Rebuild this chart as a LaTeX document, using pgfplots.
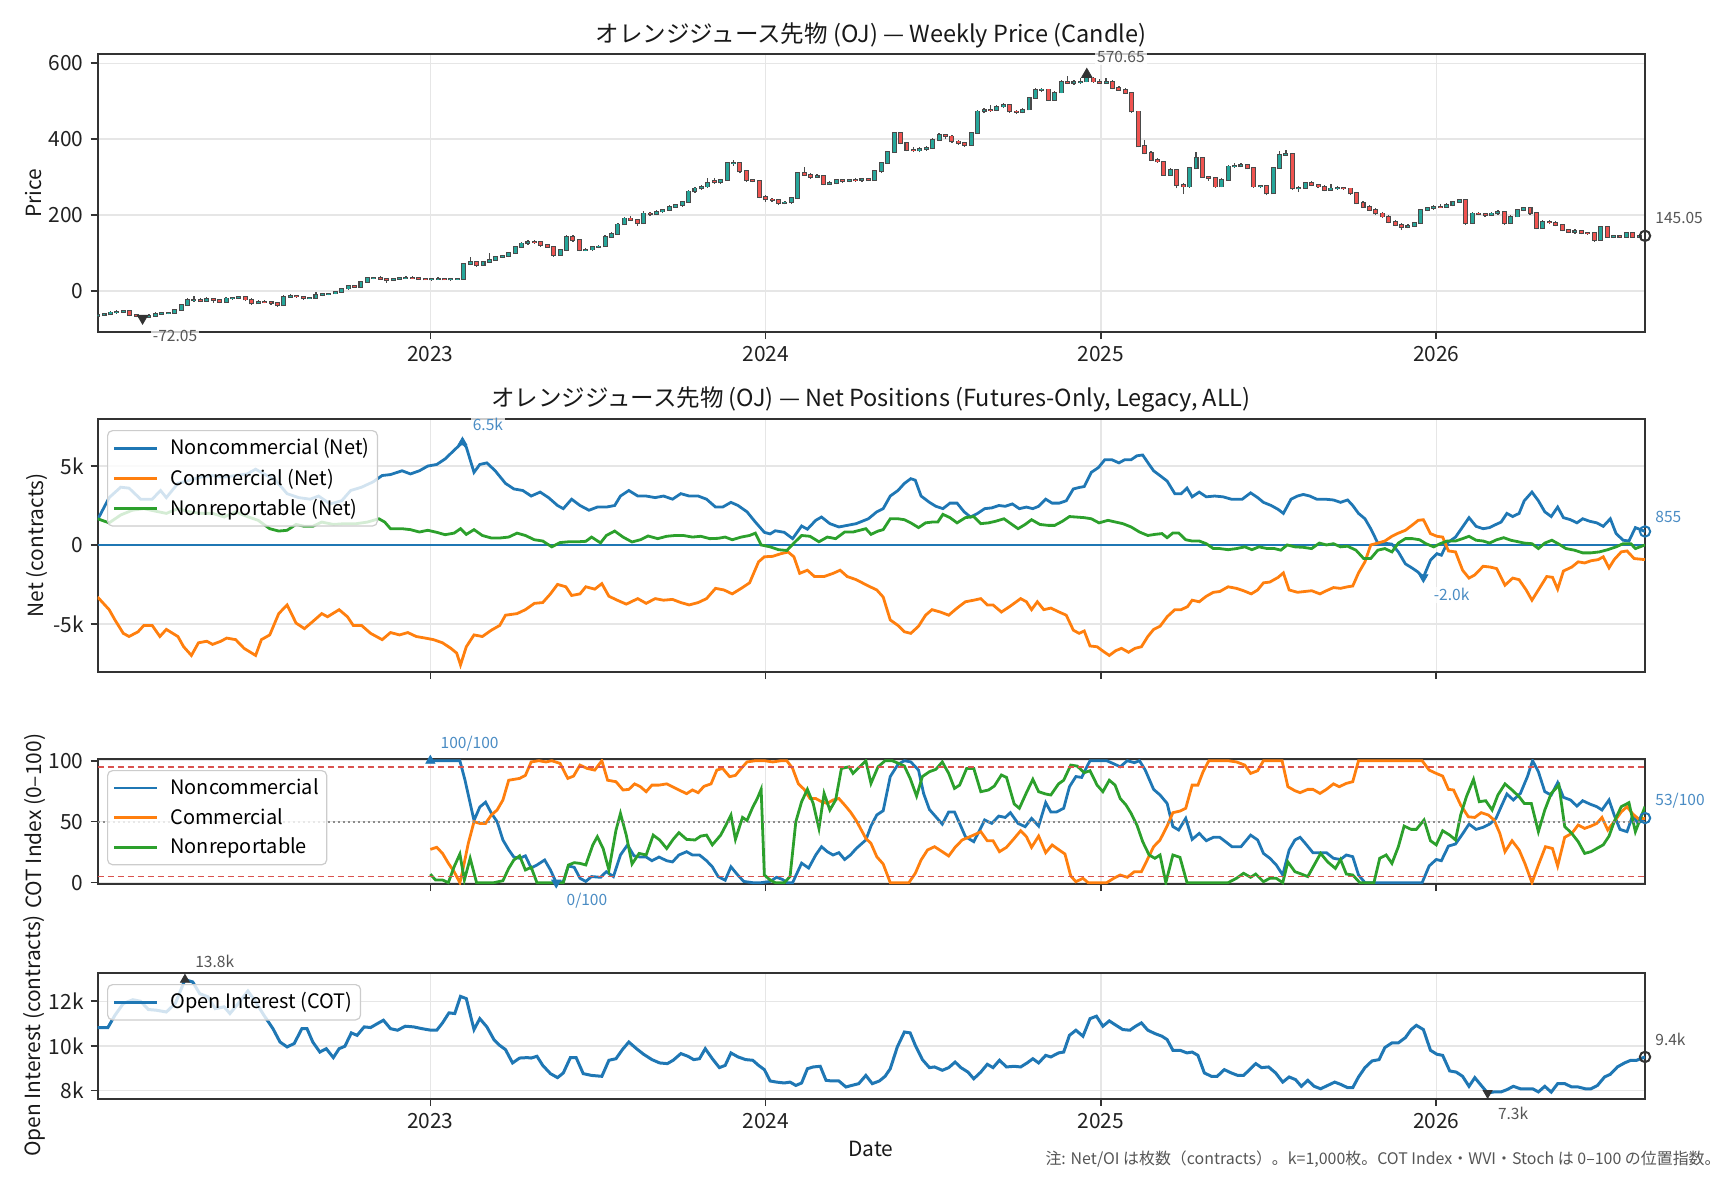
\documentclass[border=0pt]{standalone}
\usepackage{fontspec}
\setmainfont{Noto Sans CJK JP}
\usepackage{pgfplots}
\usepackage{pgfplotstable}
\pgfplotsset{compat=1.18}
\definecolor{c1}{HTML}{1F77B4}
\definecolor{c2}{HTML}{FF7F0E}
\definecolor{c3}{HTML}{2CA02C}
\definecolor{upcol}{HTML}{26A69A}
\definecolor{dncol}{HTML}{EF5350}
\definecolor{edge}{HTML}{4A4A4A}
\definecolor{mk}{HTML}{333333}
\definecolor{spine}{HTML}{333333}
\definecolor{gridc}{HTML}{E6E6E6}
\definecolor{legedge}{HTML}{CCCCCC}
\definecolor{refred}{HTML}{D9534F}
\definecolor{annot}{HTML}{555555}
\definecolor{labblue}{HTML}{4A8CC4}
\newcommand\fA{\fontsize{10.5pt}{12.6pt}\selectfont}
\newcommand\fL{\fontsize{10pt}{12pt}\selectfont}
\newcommand\fT{\fontsize{11.8pt}{14pt}\selectfont}
\newcommand\fS{\fontsize{7.8pt}{9.4pt}\selectfont}
\newcommand\fN{\fontsize{8pt}{9.6pt}\selectfont}

\pgfplotsset{
  panel/.style={
    scale only axis, width=773.7bp,
    xmin=0, xmax=240.9,
    xtick={51.8,104.0,156.2,208.4},
    xticklabels={2023,2024,2025,2026},
    tick pos=left, tick align=outside,
    major tick length=3.5bp,
    tick style={draw=spine, line width=0.8bp},
    axis line style={draw=spine, line width=1bp},
    grid=major,
    major grid style={draw=gridc, line width=0.7bp},
    tick label style={font=\fA, text=black!87},
    /pgf/number format/assume math mode=true,
    legend cell align=left,
    legend style={at={(0,1)}, anchor=north west, xshift=4.7bp, yshift=-5.5bp,
      draw=legedge, line width=0.6bp, rounded corners=2.5bp, fill=white,
      fill opacity=0.8, draw opacity=1, text opacity=1,
      font=\fL, inner xsep=2.5bp, inner ysep=2.5bp, row sep=2.4bp,
      nodes={inner sep=1.5bp},
      /tikz/every odd column/.append style={column sep=4.5bp}},
    legend image code/.code={\draw[#1, line width=1.4bp] (0bp,0bp) -- (21.5bp,0bp);},
  },
  body/.style={draw=none, no markers, forget plot},
}
\tikzset{lab/.style={font=\fS, inner sep=1bp, fill=white, fill opacity=0.75, text opacity=1, anchor=west, xshift=4bp}}

% weekly candles: week, open, high, low, close
\pgfplotstableread{
w o h l c
0 -66 -60 -70 -64
1 -64 -58 -66 -62
2 -62 -52 -64 -57
3 -57 -51 -60 -55
4 -55 -50 -58 -53
5 -53 -51 -67 -64
6 -64 -60 -70 -66
7 -66 -63 -72.05 -68
8 -68 -62 -71 -66
9 -66 -57 -68 -60
10 -60 -55 -63 -59
11 -59 -55 -62 -58
12 -58 -48 -60 -51
13 -51 -35 -53 -38
14 -38 -20 -40 -25
15 -25 -14 -29 -24
16 -24 -18 -30 -26
17 -26 -16 -28 -22
18 -22 -19 -31 -25
19 -25 -22 -33 -29
20 -29 -17 -31 -20
21 -20 -15 -24 -19
22 -19 -13 -22 -17
23 -17 -14 -27 -23
24 -23 -20 -36 -33
25 -33 -25 -35 -29
26 -29 -24 -33 -30
27 -30 -28 -37 -33
28 -33 -30 -42 -38
29 -38 -12 -40 -16
30 -16 -9 -18 -14
31 -14 -10 -18 -15
32 -15 -14 -23 -20
33 -20 -16 -22 -19
34 -19 -3 -21 -11
35 -11 -6 -14 -9
36 -9 -5 -12 -7
37 -7 0 -9 -3
38 -3 8 -5 6
39 6 16 3 12
40 12 15 8 11
41 11 27 9 24
42 24 36 22 33
43 33 37 30 34
44 34 38 29 31
45 31 33 22 28
46 28 35 26 32
47 32 36 29 33
48 33 40 31 35
49 35 38 31 34
50 34 36 29 32
51 32 35 28 30
52 30 33 27 31
53 31 36 29 32
54 32 34 28 30
55 30 33 27 31
56 31 34 28 32
57 32 73 31 70
58 70 88 68 77
59 77 79 64 68
60 68 80 66 77
61 77 100 75 81
62 81 93 79 90
63 90 95 86 92
64 92 102 88 99
65 99 118 97 116
66 116 128 114 125
67 125 133 121 130
68 130 134 124 128
69 128 130 116 121
70 121 124 113 116
71 116 118 90 94
72 94 110 92 107
73 107 146 105 143
74 143 146 130 134
75 134 136 104 107
76 107 112 104 109
77 109 119 106 116
78 116 120 112 117
79 117 147 115 143
80 143 154 140 150
81 150 178 148 175
82 175 194 173 191
83 191 197 185 187
84 187 190 172 178
85 178 210 176 204
86 204 208 198 203
87 203 212 200 209
88 209 216 205 213
89 213 226 210 222
90 222 230 219 226
91 226 238 222 235
92 235 265 233 262
93 262 273 259 270
94 270 278 267 275
95 275 297 272 284
96 290 297 282 286
97 286 296 283 292
98 292 341 290 337
99 337 345 330 338
100 338 340 310 315
101 315 318 288 292
102 292 296 286 290
103 290 292 244 248
104 248 252 235 241
105 241 244 234 240
106 240 243 226 231
107 231 236 228 233
108 233 248 230 244
109 244 313 242 310
110 310 326 303 306
111 306 310 296 301
112 301 309 298 303
113 303 306 278 282
114 282 289 279 284
115 284 296 281 292
116 292 295 285 290
117 290 296 286 293
118 293 297 288 292
119 292 296 288 294
120 294 298 289 292
121 292 318 290 315
122 315 340 312 337
123 337 370 335 367
124 367 420 365 416
125 416 420 386 389
126 389 393 368 372
127 372 379 366 370
128 370 378 365 374
129 374 382 370 376
130 376 402 374 398
131 398 415 395 411
132 411 414 400 407
133 407 410 390 394
134 394 398 385 389
135 389 392 380 385
136 385 420 383 416
137 416 478 414 473
138 473 482 468 478
139 478 490 472 477
140 477 489 474 486
141 486 495 482 491
142 491 494 470 473
143 473 478 466 471
144 471 482 468 478
145 478 512 476 508
146 508 534 506 530
147 530 535 524 531
148 531 533 500 504
149 504 527 502 523
150 523 556 521 552
151 552 566 545 548
152 548 556 544 550
153 550 560 546 552
154 552 570.65 550 560
155 560 564 549 552
156 552 558 545 548
157 548 562 546 552
158 552 555 531 535
159 535 540 527 530
160 530 534 519 522
161 522 524 470 473
162 473 475 378 381
163 381 398 360 363
164 363 368 342 345
165 345 350 338 341
166 341 343 303 306
167 306 323 303 319
168 319 322 270 279
169 279 284 255 275
170 275 327 272 323
171 323 366 320 350
172 350 354 298 301
173 301 304 290 297
174 297 300 272 275
175 275 297 273 293
176 293 332 290 328
177 328 336 325 330
178 330 338 326 332
179 332 335 320 323
180 323 326 272 275
181 275 280 270 276
182 276 278 252 257
183 257 326 255 323
184 323 370 321 359
185 359 372 356 362
186 362 364 266 270
187 270 276 260 272
188 272 288 270 284
189 284 290 276 279
190 279 282 271 275
191 275 280 262 266
192 266 282 264 270
193 270 276 266 271
194 271 274 266 270
195 270 272 254 257
196 257 260 228 231
197 231 236 218 222
198 222 226 210 213
199 213 218 200 204
200 204 207 192 196
201 196 199 178 182
202 182 186 170 174
203 174 178 160 169
204 169 175 165 171
205 171 182 168 178
206 178 217 176 213
207 213 222 210 218
208 218 226 214 222
209 222 230 218 221
210 221 232 219 226
211 226 238 223 235
212 235 243 232 240
213 240 242 174 178
214 178 208 176 204
215 204 209 199 203
216 203 206 195 200
217 200 208 197 204
218 204 212 201 209
219 209 211 174 178
220 178 200 176 196
221 196 216 194 213
222 213 222 210 218
223 218 222 201 205
224 205 207 162 165
225 165 186 163 182
226 182 186 175 180
227 180 183 170 174
228 174 177 157 160
229 160 163 152 156
230 156 162 150 157
231 157 160 149 153
232 153 156 148 152
233 152 154 130 134
234 134 172 132 169
235 169 171 140 143
236 143 147 139 144
237 144 146 139 142
238 142 155 140 152
239 152 154 141 143
240 143 149 141 145.05
}\candles

\pgfplotstableread{
w b t
0 -66 -64
1 -64 -62
2 -62 -57
3 -57 -55
4 -55 -53
8 -68 -66
9 -66 -60
10 -60 -59
11 -59 -58
12 -58 -51
13 -51 -38
14 -38 -25
15 -25 -24
17 -26 -22
20 -29 -20
21 -20 -19
22 -19 -17
25 -33 -29
29 -38 -16
30 -16 -14
33 -20 -19
34 -19 -11
35 -11 -9
36 -9 -7
37 -7 -3
38 -3 6
39 6 12
41 11 24
42 24 33
43 33 34
46 28 32
47 32 33
48 33 35
52 30 31
53 31 32
55 30 31
56 31 32
57 32 70
58 70 77
60 68 77
61 77 81
62 81 90
63 90 92
64 92 99
65 99 116
66 116 125
67 125 130
72 94 107
73 107 143
76 107 109
77 109 116
78 116 117
79 117 143
80 143 150
81 150 175
82 175 191
85 178 204
87 203 209
88 209 213
89 213 222
90 222 226
91 226 235
92 235 262
93 262 270
94 270 275
95 275 284
97 286 292
98 292 337
99 337 338
107 231 233
108 233 244
109 244 310
112 301 303
114 282 284
115 284 292
117 290 293
119 292 294
121 292 315
122 315 337
123 337 367
124 367 416
128 370 374
129 374 376
130 376 398
131 398 411
136 385 416
137 416 473
138 473 478
140 477 486
141 486 491
144 471 478
145 478 508
146 508 530
147 530 531
149 504 523
150 523 552
152 548 550
153 550 552
154 552 560
157 548 552
167 306 319
170 275 323
171 323 350
175 275 293
176 293 328
177 328 330
178 330 332
181 275 276
183 257 323
184 323 359
185 359 362
187 270 272
188 272 284
192 266 270
193 270 271
204 169 171
205 171 178
206 178 213
207 213 218
208 218 222
210 221 226
211 226 235
212 235 240
214 178 204
217 200 204
218 204 209
220 178 196
221 196 213
222 213 218
225 165 182
230 156 157
234 134 169
236 143 144
238 142 152
240 143 145.05
}\upbody

\pgfplotstableread{
w b t
5 -64 -53
6 -66 -64
7 -68 -66
16 -26 -24
18 -25 -22
19 -29 -25
23 -23 -17
24 -33 -23
26 -30 -29
27 -33 -30
28 -38 -33
31 -15 -14
32 -20 -15
40 11 12
44 31 34
45 28 31
49 34 35
50 32 34
51 30 32
54 30 32
59 68 77
68 128 130
69 121 128
70 116 121
71 94 116
74 134 143
75 107 134
83 187 191
84 178 187
86 203 204
96 286 290
100 315 338
101 292 315
102 290 292
103 248 290
104 241 248
105 240 241
106 231 240
110 306 310
111 301 306
113 282 303
116 290 292
118 292 293
120 292 294
125 389 416
126 372 389
127 370 372
132 407 411
133 394 407
134 389 394
135 385 389
139 477 478
142 473 491
143 471 473
148 504 531
151 548 552
155 552 560
156 548 552
158 535 552
159 530 535
160 522 530
161 473 522
162 381 473
163 363 381
164 345 363
165 341 345
166 306 341
168 279 319
169 275 279
172 301 350
173 297 301
174 275 297
179 323 332
180 275 323
182 257 276
186 270 362
189 279 284
190 275 279
191 266 275
194 270 271
195 257 270
196 231 257
197 222 231
198 213 222
199 204 213
200 196 204
201 182 196
202 174 182
203 169 174
209 221 222
213 178 240
215 203 204
216 200 203
219 178 209
223 205 218
224 165 205
226 180 182
227 174 180
228 160 174
229 156 160
231 153 157
232 152 153
233 134 152
235 143 169
237 142 144
239 143 152
}\dnbody

\pgfplotstableread{
x y
0 1.6
1.8 3.0
3.6 3.66
4.9 3.6
6.7 2.9
8.5 2.9
9.8 3.45
10.7 3.0
12.5 3.9
14.3 4.1
16.1 4.3
17.9 4.4
19.7 4.3
21.5 4.4
23.3 4.5
24.6 4.8
25.9 4.5
27.7 4.1
29.5 3.25
31.3 3.0
33.1 2.9
34.4 3.1
36.2 2.6
38.0 2.8
39.4 3.45
41.1 3.66
42.9 4.0
44.3 4.4
45.6 4.46
47.4 4.7
48.7 4.5
50.1 4.7
51.4 5.0
52.8 5.1
54.1 5.45
55.5 6.0
56.8 6.5
57.4 6.2
58.6 4.6
59.5 5.1
60.6 5.2
61.9 4.7
63.5 3.9
64.8 3.55
66.2 3.45
67.5 3.1
68.9 3.35
70.2 3.0
71.6 2.5
72.5 2.3
73.8 2.9
75.1 2.5
76.5 2.2
77.8 2.4
79.2 2.4
80.5 2.5
81.4 3.1
82.7 3.45
84.1 3.1
85.4 3.1
86.8 3.0
88.1 3.1
89.5 2.9
90.8 3.25
92.1 3.1
93.5 3.1
94.8 2.9
96.2 2.4
97.3 2.4
98.6 2.7
99.7 2.5
101.1 2.1
102.4 1.45
103.8 0.8
104.7 0.7
105.5 0.9
106.9 0.8
108.2 0.4
109.6 1.2
110.5 1.0
111.8 1.56
112.7 1.77
114.0 1.35
115.4 1.14
116.7 1.24
118.1 1.35
120.0 1.66
121.3 2.1
122.3 2.3
123.4 3.1
124.6 3.45
125.6 3.9
126.6 4.2
127.3 4.1
128.2 3.1
129.5 2.7
130.5 2.45
131.6 2.3
132.7 2.65
133.8 2.65
134.9 2.1
135.9 1.77
137.0 2.0
138.1 2.3
139.2 2.35
140.3 2.5
141.3 2.45
142.4 2.6
143.5 2.3
144.6 2.4
145.6 2.3
146.5 2.45
147.6 2.9
148.6 2.65
149.7 2.65
150.8 2.8
151.9 3.55
152.9 3.65
153.6 3.7
154.7 4.6
155.8 4.9
156.8 5.4
157.9 5.4
159.0 5.2
159.9 5.4
160.9 5.4
161.8 5.65
162.7 5.7
163.7 5.1
164.4 4.7
165.7 4.3
166.5 4.05
167.7 3.25
168.7 3.25
169.6 3.6
170.4 3.05
171.5 3.35
172.6 3.05
173.9 3.1
175.2 3.05
176.5 2.9
178.2 2.9
179.5 3.3
180.6 3.0
181.5 2.7
182.7 2.5
183.8 2.25
184.6 2.0
185.8 2.9
186.8 3.1
187.7 3.2
188.7 3.1
189.8 2.9
191.1 2.9
192.4 2.85
193.5 2.7
194.6 2.85
195.4 2.5
196.3 2.0
197.3 1.66
198.2 1.03
199.3 0.12
200.6 0.1
201.5 0.05
202.5 -0.44
203.6 -1.2
204.6 -1.45
205.5 -1.7
206.4 -2.05
207.5 -0.97
208.5 -0.55
209.2 -0.65
210.1 0.12
211.4 0.5
212.5 1.14
213.5 1.73
214.6 1.18
215.7 1.03
216.7 1.1
217.7 1.3
218.5 1.45
219.4 2.0
220.3 1.8
221.3 2.0
222.1 2.8
223.3 3.35
224.3 2.8
225.3 2.1
226.3 1.8
227.3 2.4
228.2 1.73
229.3 1.6
230.3 1.4
231.2 1.66
232.3 1.5
233.4 1.4
234.4 1.18
235.5 1.66
236.4 0.72
237.5 0.3
238.4 0.25
239.4 1.1
240.9 0.855
}\nnc

\pgfplotstableread{
x y
0 -3.3
1.8 -4.1
2.7 -4.75
4.0 -5.6
4.9 -5.8
6.3 -5.5
7.2 -5.1
8.5 -5.1
9.7 -5.8
10.7 -5.35
12.5 -5.8
13.4 -6.45
14.6 -7.0
15.7 -6.2
17.0 -6.1
17.9 -6.3
19.2 -6.1
20.1 -5.9
21.5 -6.0
22.8 -6.55
24.6 -7.0
25.5 -6.0
26.8 -5.7
28.2 -4.35
29.5 -3.8
30.9 -4.95
32.2 -5.3
33.5 -4.85
34.9 -4.35
35.8 -4.55
37.6 -4.1
38.9 -4.55
39.8 -5.1
41.1 -5.1
42.5 -5.6
44.3 -6.0
45.6 -5.55
47.0 -5.7
48.3 -5.55
49.6 -5.8
51.0 -5.9
52.3 -6.0
53.7 -6.2
55.0 -6.55
55.9 -6.85
56.5 -7.6
57.4 -6.45
58.6 -5.7
59.9 -5.8
61.3 -5.4
62.6 -5.1
63.5 -4.45
65.3 -4.35
66.6 -4.1
68.0 -3.7
69.3 -3.65
70.5 -3.1
71.6 -2.5
72.9 -2.65
73.8 -3.2
75.1 -3.1
76.0 -2.65
77.4 -2.8
78.5 -2.45
79.6 -3.25
80.9 -3.5
82.3 -3.75
84.1 -3.4
85.4 -3.7
86.8 -3.4
88.1 -3.5
89.5 -3.45
90.8 -3.65
92.1 -3.8
93.5 -3.65
94.8 -3.4
96.2 -2.75
97.5 -2.85
98.8 -3.1
100.2 -2.75
101.5 -2.4
102.9 -1.07
103.8 -0.75
105.1 -0.72
106.4 -0.55
107.5 -0.45
108.4 -0.75
109.3 -1.8
110.5 -1.6
111.6 -2.0
113.1 -2.0
114.5 -1.8
115.6 -1.6
116.7 -2.0
118.1 -2.2
120.0 -2.6
121.3 -2.85
122.3 -3.3
123.4 -4.75
124.6 -5.1
125.6 -5.5
126.6 -5.6
127.8 -5.15
128.9 -4.45
129.9 -4.1
131.2 -4.25
132.5 -4.45
133.8 -4.0
135.1 -3.6
136.4 -3.5
137.5 -3.4
138.5 -3.8
139.4 -3.8
140.7 -4.25
142.0 -3.9
143.7 -3.4
144.6 -3.6
145.4 -4.1
146.3 -3.6
147.3 -4.1
148.4 -4.0
149.7 -4.25
150.8 -4.45
151.9 -5.4
152.8 -5.6
153.6 -5.45
154.5 -6.4
155.6 -6.45
156.6 -6.75
157.5 -7.0
158.5 -6.7
159.4 -6.55
160.5 -6.8
161.5 -6.55
162.5 -6.45
163.5 -5.8
164.4 -5.35
165.4 -5.15
166.5 -4.55
167.7 -4.1
168.7 -4.1
169.7 -3.9
170.4 -3.5
171.5 -3.6
172.6 -3.25
173.7 -3.0
174.7 -2.95
176.0 -2.65
177.3 -2.75
178.4 -2.9
179.6 -3.1
180.6 -2.85
181.5 -2.4
182.5 -2.35
183.8 -2.05
184.6 -1.77
185.5 -2.85
186.8 -3.0
187.9 -2.95
189.0 -2.9
190.3 -3.1
191.3 -2.9
192.4 -2.7
193.5 -2.75
194.6 -2.65
195.4 -2.6
196.3 -1.77
197.3 -1.07
198.2 0
199.3 0.12
200.4 0.25
201.5 0.55
202.5 0.75
203.6 0.93
204.6 1.24
205.6 1.56
206.4 1.6
207.5 0.72
208.5 0.55
209.4 0.5
210.3 -0.38
211.4 -0.44
212.5 -1.6
213.5 -2.1
214.4 -1.9
215.7 -1.35
216.8 -1.4
217.8 -1.5
219.1 -2.55
220.3 -2.1
221.3 -2.2
222.4 -2.85
223.3 -3.5
224.3 -2.85
225.6 -2.0
226.5 -2.05
227.3 -2.8
228.2 -1.65
229.5 -1.4
230.5 -1.07
231.5 -1.14
232.5 -1.0
233.6 -0.93
234.4 -0.75
235.3 -1.45
236.1 -0.93
237.2 -0.44
238.1 -0.38
239.2 -0.86
240.9 -0.93
}\ncm

\pgfplotstableread{
x y
0 1.66
1.8 1.4
3.6 1.9
5.4 2.2
7.2 2.3
8.9 2.15
10.7 2.0
12.5 2.3
14.3 2.1
16.1 2.0
17.9 2.0
19.7 1.77
21.5 2.1
23.3 1.8
25.0 1.56
26.8 1.03
28.2 0.88
29.5 0.93
30.9 1.3
32.2 1.18
33.5 1.18
34.9 1.45
36.7 1.3
38.5 1.35
40.3 1.35
42.0 1.45
43.8 1.66
44.7 1.45
45.6 1.03
47.4 1.03
48.7 0.97
50.1 0.82
51.4 0.93
52.8 0.8
54.1 0.65
55.5 0.75
56.5 1.03
57.4 0.67
58.6 0.97
59.9 0.6
61.3 0.44
62.6 0.44
64.0 0.5
65.3 0.75
66.6 0.6
68.0 0.33
69.3 0.25
70.7 -0.12
72.0 0.15
73.3 0.2
74.7 0.2
76.0 0.23
76.9 0.5
78.3 0.13
79.2 0.6
80.5 0.88
81.8 0.5
83.2 0.19
84.5 0.33
85.7 0.57
87.2 0.4
88.6 0.55
89.9 0.6
91.2 0.6
92.6 0.5
93.9 0.55
95.3 0.4
96.6 0.42
97.7 0.5
98.8 0.33
100.2 0.5
101.5 0.6
102.4 0.75
103.3 0
104.7 -0.12
106.0 -0.3
107.3 -0.35
108.4 0.12
109.6 0.6
110.9 0.55
112.3 0.2
113.6 0.5
114.9 0.4
116.3 0.82
117.6 0.82
119.6 1.03
120.4 0.67
121.5 0.88
122.3 0.97
123.4 1.66
124.6 1.66
125.6 1.6
126.6 1.4
127.8 1.1
128.9 1.4
129.9 1.45
130.8 1.45
131.6 1.94
132.7 1.73
133.8 1.4
135.1 1.73
136.4 1.8
137.5 1.35
138.7 1.4
139.8 1.5
141.1 1.66
142.0 1.4
143.3 1.03
144.4 1.3
145.4 1.6
146.7 1.3
148.0 1.24
149.0 1.24
150.2 1.5
151.3 1.8
152.3 1.77
153.6 1.73
154.7 1.66
155.9 1.4
157.3 1.56
158.5 1.45
159.6 1.35
160.9 1.14
162.2 0.82
163.5 0.6
164.6 0.67
165.7 0.72
166.5 0.46
167.4 0.76
168.3 0.76
169.4 0.33
170.4 0.25
171.5 0.25
172.6 0.08
173.7 -0.23
174.7 -0.23
176.0 -0.3
177.3 -0.23
178.6 -0.12
179.7 -0.3
180.8 -0.12
182.1 -0.23
183.2 -0.23
184.2 -0.33
185.2 0
186.4 -0.12
187.7 -0.15
189.0 -0.23
190.2 0.12
191.3 0
192.4 0.08
193.5 -0.12
194.6 -0.08
195.9 -0.33
197.1 -0.86
198.2 -0.86
199.3 -0.33
200.4 -0.23
201.5 -0.44
202.5 0.12
203.6 0.4
204.7 0.4
205.8 0.33
206.8 0.08
208.0 -0.12
209.0 0.08
210.1 0.25
211.4 0.25
212.5 0.4
213.5 0.55
214.6 0.3
215.7 0.25
216.7 0.12
217.8 0.33
218.9 0.46
220.0 0.3
221.3 0.19
222.1 0.12
223.3 0.08
224.3 -0.23
225.3 0.12
226.4 0.3
227.5 0.05
228.6 -0.23
229.9 -0.33
231.2 -0.5
232.5 -0.5
233.8 -0.44
235.1 -0.3
236.4 -0.12
237.5 0.08
238.7 0.08
239.4 -0.23
240.9 0
}\nnr

\pgfplotstableread{
x y
51.8 100
52.8 100
54.6 100
56.4 100
57.2 84
58.6 51
59.5 62
60.4 66
61.3 57
62.2 50
63.1 35
64.0 27
64.8 21
65.7 20
66.6 22
67.5 12
68.4 14.5
69.6 18.6
70.5 10.4
71.4 0
72.5 1
73.3 13.7
74.2 12.6
75.1 3.6
76.0 1
76.9 5
78.3 4.4
79.2 9
80.3 5
81.4 22.7
82.5 31
83.5 22
84.5 21
85.4 21
86.3 18
87.4 21
88.6 18
89.5 17
90.5 22.7
91.7 25.4
92.6 22.7
93.7 22.7
94.8 18
95.7 13
96.6 5
97.7 2
98.6 13
99.7 6
100.6 1
102.0 0
103.3 0
104.7 1
105.7 4.4
106.6 2.7
107.3 0
108.2 0
109.6 16
110.7 12
111.8 22.7
112.7 29.5
113.6 25.4
114.5 22.7
115.4 24.6
116.3 19
117.2 22.7
118.1 28
119.6 35
120.4 46.4
121.3 55.5
122.3 59
123.4 87
124.6 97
125.6 100
126.6 99
127.8 92.3
128.6 73
129.5 60
130.5 54
131.5 48
132.5 58
133.4 58
134.2 48.6
135.1 37.7
136.4 33.6
137.2 41.8
138.1 51.4
139.2 48.6
140.3 54.6
141.3 53.5
142.1 57.4
143.3 48.6
144.4 45.9
145.4 52.7
146.5 46.4
147.6 65.6
148.4 58
149.3 58
150.4 61
151.3 78.7
152.3 87
153.2 86.3
154.0 95
154.5 100
157.1 100
158.4 97
159.2 95
160.3 100
161.4 98.4
162.2 100
163.1 92.3
164.4 76.5
165.4 71.9
166.5 65
167.4 46
168.3 43.2
169.4 52.7
170.4 35.5
171.5 40.4
172.6 34.4
173.7 37.2
174.7 37.2
175.6 33.6
176.6 29.5
178.0 29.5
179.5 39
180.6 35
181.5 24
182.5 20
183.5 14.5
184.5 6.3
185.5 26.8
186.4 35
187.2 37.2
188.1 31.7
189.2 24.6
191.3 24.6
192.4 20
193.5 19
194.4 22.7
195.4 21.3
196.3 6.3
197.3 0
206.2 0
207.3 13.7
208.4 19
209.2 18
210.3 30
211.4 31.7
212.5 40
213.5 48
214.6 43.7
215.7 45.4
216.7 48
217.7 52.7
218.5 62.3
219.4 72.7
220.4 67.8
221.5 73.2
222.6 87
223.4 100
224.3 91
225.3 74.6
226.3 71.9
227.3 82
228.2 70
229.3 67.8
230.3 62.8
231.2 67.2
232.3 64.5
233.4 62.3
234.2 59.6
235.3 67.8
236.1 55.5
237.0 43.7
238.1 41.8
239.0 55.5
239.8 48.6
240.9 53
}\cnc

\pgfplotstableread{
x y
51.8 27.3
52.8 29
53.7 24
54.6 16
55.5 9
56.4 0
56.8 9
57.7 32
58.6 50
59.5 48.6
60.4 48.6
61.3 55.5
62.2 59.6
63.1 67.8
64.0 84
64.8 84.7
65.7 85.5
66.6 88
67.5 99
68.7 100
69.8 99
70.7 100
72.0 97.8
73.2 85.5
74.1 87.4
75.1 96.4
76.2 93.7
77.4 92.3
78.5 100
79.4 84
80.7 82.8
81.8 76
82.7 76.5
83.6 81
84.5 78.7
85.4 74.6
86.3 80
87.4 80
88.6 81
89.5 78.7
90.5 76
91.7 73
92.6 76
93.5 73.8
94.4 79
95.5 81
96.4 92.3
97.3 93.7
98.4 86.9
99.3 88
100.2 93.7
101.1 99
102.4 100
103.8 100
105.1 99
106.4 100
107.3 100
108.2 93.7
109.1 81
110.0 76.5
110.9 69
111.8 69
112.7 66.4
113.6 65
114.5 67.8
115.4 69
116.3 63.7
117.2 58
118.1 51
119.6 36.3
120.4 32.2
121.3 21.3
122.3 15.3
123.4 0
126.3 0
127.3 7.7
128.2 18.6
129.2 26.8
130.3 29.5
131.5 25.4
132.5 21.9
133.5 29
134.6 35
135.8 37.7
136.8 40
137.5 41.8
138.5 34.4
139.4 34.4
140.4 25.4
141.5 29
142.7 36.3
143.7 42.6
144.6 37.7
145.4 29
146.5 38.2
147.6 24.6
148.6 30.9
149.7 26.8
150.6 23.5
151.5 5.5
152.3 0.8
153.4 3.6
154.2 0
157.1 0
158.2 3.6
159.2 6.3
160.3 4.4
161.4 9
162.5 9
163.4 18.6
164.4 29.5
165.4 35
166.5 46.4
167.4 57.4
168.5 58.7
169.4 61
170.4 80
171.3 80
172.1 91
173.0 100
176.0 100
177.3 99
178.6 96.4
179.5 89.6
180.6 91.8
181.5 100
184.4 100
185.3 78.7
186.4 75.4
187.2 73.8
188.4 76.5
189.2 76.5
190.3 73.2
191.3 76.5
192.4 81
193.3 78.7
194.4 81.4
195.4 82.8
196.3 100
206.2 100
207.3 92.3
208.4 89.6
209.4 87.4
210.3 76.5
211.1 76
212.2 63.7
213.4 54
214.4 53.5
215.4 57.4
216.5 55.5
217.4 51.4
218.3 40.4
219.1 25.4
220.2 34.4
221.3 26.8
222.2 15.8
223.3 0
224.3 14.5
225.4 29.5
226.5 28
227.3 13.7
228.4 37.2
229.5 40.4
230.5 47.3
231.5 44.5
232.5 46.4
233.4 48.6
234.2 53.5
235.1 43.2
236.1 50
237.2 58
238.1 62.3
239.0 56.3
239.8 52.7
240.9 52.7
}\ccm

\pgfplotstableread{
x y
51.8 7
52.6 2.2
53.7 2.2
54.6 0
55.5 13
56.4 23.5
57.1 2.2
58.0 20
59.0 0
61.7 0
63.1 1.6
64.0 11.7
64.8 18.6
65.7 22
66.6 10.4
67.5 12.6
68.4 0
72.5 0
73.3 14.5
74.2 16.4
75.1 15.8
76.0 14.5
77.1 31
77.8 37.7
78.7 28
79.6 10.4
80.7 43
81.4 56.8
82.3 39
83.2 15.3
84.3 24
85.4 22.7
86.5 39
87.5 35
88.6 28
89.6 35.5
90.5 41
91.7 35.5
93.0 35
93.9 38.2
94.8 39
95.7 31
97.0 39
97.7 46
98.6 55.5
99.3 35.5
100.4 53.5
101.1 51
102.0 62
102.7 69
103.3 76.5
103.8 6.3
104.7 2.2
105.5 0
106.9 0
107.8 5
108.7 50
109.6 66.4
110.5 76.5
111.4 65
112.3 44.5
113.1 73.2
114.0 59.6
114.9 67.8
115.8 93.7
117.0 95
117.6 89.6
119.6 100
120.4 81.4
121.5 95
122.6 100
123.7 100
124.7 97.8
125.6 95.6
126.5 85.5
127.5 71
128.4 87
129.5 91
130.5 92.9
131.5 99
132.5 89.6
133.4 77.3
134.2 80
135.3 93.7
136.4 93.7
137.5 74.6
138.7 76
139.6 79.2
140.7 88.3
141.5 86.3
142.7 64.5
143.5 61
144.6 73.8
145.6 84.7
146.5 74.6
147.6 72.7
148.4 71.9
149.6 81
150.4 84
151.5 96.4
152.5 95.6
153.6 90.2
154.5 91.8
155.6 80
156.5 74.6
157.5 84
158.4 80
159.2 69
160.1 63.7
160.9 56.8
161.8 47.3
162.7 33.6
163.7 22.7
164.6 20
165.4 22.7
166.3 0
167.4 22.7
168.5 20.8
169.6 0
176.0 0
177.3 3.6
178.4 7.7
179.5 4.4
180.3 7.1
181.5 0.8
182.5 3.6
183.5 3.6
184.5 0
185.3 17
186.4 9
187.4 7.1
188.4 5
189.4 14.5
190.4 24
191.5 17
192.7 11.7
193.5 19
194.4 7.1
195.4 6.3
196.5 0
198.7 0
199.6 20
200.6 22.7
201.5 15.8
202.5 29.5
203.4 46.4
204.5 43.7
205.3 43.7
206.5 51.4
207.5 34.4
208.4 31
209.4 42.6
210.5 39
211.4 35
212.2 55.5
213.1 70.5
214.2 84.7
215.1 66.4
216.1 67.2
217.1 59.6
218.0 71.9
219.1 81
220.2 76
221.3 70.5
222.1 65
223.2 65
224.3 41.8
225.3 59.6
226.3 73.2
227.5 80
228.4 46
229.5 40.4
230.5 33.6
231.5 24
232.5 25.4
233.5 28.4
234.4 31
235.3 38.2
236.1 50
237.2 62.3
238.4 65.6
239.4 41.8
240.9 62.3
}\cnr

\pgfplotstableread{
x y
0 10.82
1.6 10.82
2.7 11.37
4.0 11.9
5.5 12.07
6.7 12.0
7.9 11.63
9.1 11.6
10.7 11.52
12.1 11.9
13.6 12.97
14.8 12.87
15.9 12.34
17.2 12.2
18.3 11.67
19.7 11.75
20.6 11.45
21.9 11.9
23.4 12.46
24.6 11.97
25.9 11.37
27.3 10.77
28.4 10.17
29.5 9.95
30.6 10.1
31.8 10.77
32.6 10.77
33.5 10.17
34.6 9.72
35.6 9.87
36.7 9.47
37.6 9.87
38.5 9.98
39.5 10.58
40.4 10.47
41.5 10.85
42.5 10.82
43.4 10.97
44.5 11.15
45.6 10.77
46.7 10.7
47.9 10.88
49.2 10.85
50.5 10.77
51.9 10.7
52.8 10.7
53.7 11.03
54.7 11.48
55.6 11.45
56.5 12.22
57.4 12.12
58.6 10.73
59.5 11.22
60.6 10.85
61.7 10.28
62.6 10.02
63.5 9.83
64.6 9.23
65.7 9.45
66.9 9.47
67.5 9.45
68.4 9.53
69.3 9.12
70.5 8.75
71.6 8.57
72.5 8.78
73.6 9.47
74.5 9.47
75.6 8.75
76.9 8.67
78.5 8.63
79.6 9.35
80.7 9.42
81.7 9.83
82.7 10.17
83.9 9.87
85.0 9.62
86.3 9.38
87.5 9.23
88.7 9.2
89.6 9.35
90.8 9.65
91.9 9.53
92.8 9.38
93.7 9.42
94.6 9.87
95.7 9.42
96.8 9.02
97.7 9.12
98.6 9.68
99.7 9.5
100.9 9.38
102.0 9.35
102.9 9.12
103.8 8.93
104.7 8.42
105.7 8.37
106.9 8.33
107.8 8.37
108.7 8.22
109.6 8.33
110.5 8.97
111.4 9.05
112.5 9.08
113.4 8.45
114.3 8.42
115.4 8.42
116.5 8.15
117.4 8.22
118.5 8.3
119.6 8.67
120.6 8.3
121.7 8.42
122.6 8.63
123.4 8.97
124.5 9.95
125.6 10.62
126.5 10.58
127.3 10.02
128.4 9.38
129.5 9.02
130.3 9.05
131.5 8.9
132.5 9.02
133.5 9.27
134.4 9.02
135.5 8.82
136.4 8.52
137.5 8.82
138.5 9.17
139.4 9.02
140.4 9.35
141.5 9.05
142.7 9.08
143.7 9.05
144.7 9.23
145.6 9.42
146.5 9.23
147.6 9.57
148.4 9.5
149.6 9.68
150.4 9.72
151.3 10.47
152.3 10.7
153.4 10.43
154.5 11.22
155.5 11.33
156.5 10.88
157.5 11.12
158.5 10.93
159.6 10.73
160.7 10.7
161.6 10.88
162.5 11.03
163.5 10.7
164.6 10.55
165.7 10.43
166.5 10.28
167.4 9.8
168.5 9.8
169.6 9.68
170.4 9.72
171.3 9.57
172.3 8.78
173.4 8.63
174.3 8.63
175.4 8.93
176.5 8.78
177.5 8.67
178.4 8.67
179.5 8.97
180.3 9.2
181.2 9.02
182.3 9.05
183.4 8.78
184.5 8.37
185.5 8.6
186.5 8.48
187.4 8.18
188.4 8.45
189.4 8.18
190.4 8.07
191.5 8.22
192.6 8.37
193.5 8.27
194.6 8.12
195.4 8.12
196.3 8.6
197.3 9.02
198.4 9.32
199.5 9.38
200.4 9.92
201.5 10.13
202.5 10.13
203.6 10.37
204.5 10.73
205.3 10.92
206.4 10.73
207.5 9.8
208.5 9.62
209.4 9.57
210.5 8.87
211.5 8.82
212.5 8.63
213.5 8.18
214.4 8.57
215.4 8.22
216.4 7.88
217.4 7.93
218.5 7.93
219.4 8.03
220.4 8.18
221.5 8.07
222.6 8.07
223.4 8.07
224.3 7.93
225.3 8.18
226.3 7.92
227.3 8.3
228.4 8.3
229.5 8.15
230.5 8.15
231.6 8.07
232.5 8.07
233.5 8.22
234.6 8.6
235.5 8.72
236.6 9.05
237.7 9.23
238.7 9.35
239.6 9.35
240.9 9.5
}\oi

\begin{document}
\begin{tikzpicture}
\useasboundingbox (0,0) rectangle (864bp,-590bp);

% ---------------- Panel 1: candles ----------------
\begin{axis}[panel, at={(48.8bp,-166bp)}, anchor=south west, height=139bp,
  ymin=-108.5, ymax=624.5, ytick={0,200,400,600}, yticklabels={0,200,400,600}]
\addplot[body,
  error bars/.cd, y dir=plus, y explicit, error mark=none,
  error bar style={draw=edge, line width=0.6bp}]
  table[x=w, y=l, y error plus expr=\thisrow{h}-\thisrow{l}] {\candles};
\addplot[body,
  error bars/.cd, y dir=plus, y explicit, error mark=none,
  error bar style={draw=edge, line width=2.5bp, shorten <=-0.45bp, shorten >=-0.45bp}]
  table[x=w, y=b, y error plus expr=\thisrow{t}-\thisrow{b}] {\upbody};
\addplot[body,
  error bars/.cd, y dir=plus, y explicit, error mark=none,
  error bar style={draw=upcol, line width=1.45bp}]
  table[x=w, y=b, y error plus expr=\thisrow{t}-\thisrow{b}] {\upbody};
\addplot[body,
  error bars/.cd, y dir=plus, y explicit, error mark=none,
  error bar style={draw=edge, line width=2.5bp, shorten <=-0.45bp, shorten >=-0.45bp}]
  table[x=w, y=b, y error plus expr=\thisrow{t}-\thisrow{b}] {\dnbody};
\addplot[body,
  error bars/.cd, y dir=plus, y explicit, error mark=none,
  error bar style={draw=dncol, line width=1.45bp}]
  table[x=w, y=b, y error plus expr=\thisrow{t}-\thisrow{b}] {\dnbody};
\addplot[only marks, mark=triangle*, mark size=3bp, mk, mark options={rotate=180}, forget plot] coordinates {(7,-72.05)};
\addplot[only marks, mark=triangle*, mark size=3bp, mk, forget plot] coordinates {(154,570.65)};
\addplot[only marks, mark=o, mark size=2.6bp, mk, mark options={line width=1bp}, forget plot] coordinates {(240.9,145.05)};
\coordinate (pmin) at (axis cs:7,-72.05);
\coordinate (pmax) at (axis cs:154,570.65);
\coordinate (pend) at (axis cs:240.9,145.05);
\end{axis}

% ---------------- Panel 2: net positions ----------------
\begin{axis}[panel, at={(48.8bp,-336bp)}, anchor=south west, height=126.5bp,
  ymin=-8.05, ymax=7.98, ytick={-5,0,5}, yticklabels={-5k,0,5k}, xticklabels={,,,}]
\addplot[c1, line width=0.9bp, forget plot] coordinates {(0,0) (240.9,0)};
\addplot[c1, line width=1.4bp] table {\nnc}; \addlegendentry{Noncommercial (Net)}
\addplot[c2, line width=1.4bp] table {\ncm}; \addlegendentry{Commercial (Net)}
\addplot[c3, line width=1.4bp] table {\nnr}; \addlegendentry{Nonreportable (Net)}
\addplot[only marks, mark=triangle*, mark size=2.6bp, c1, forget plot] coordinates {(56.8,6.5)};
\addplot[only marks, mark=triangle*, mark size=2.6bp, c1, mark options={rotate=180}, forget plot] coordinates {(206.4,-2.05)};
\addplot[only marks, mark=o, mark size=2.6bp, c1, mark options={line width=1bp}, forget plot] coordinates {(240.9,0.855)};
\coordinate (n1) at (axis cs:56.8,6.5);
\coordinate (n2) at (axis cs:206.4,-2.05);
\coordinate (n3) at (axis cs:240.9,0.855);
\end{axis}

% ---------------- Panel 3: COT index ----------------
\begin{axis}[panel, at={(48.8bp,-442bp)}, anchor=south west, height=62.5bp,
  ymin=-1.1, ymax=101.4, ytick={0,50,100}, yticklabels={0,50,100}, xticklabels={,,,}]
\addplot[c1, line width=1.4bp] table {\cnc}; \addlegendentry{Noncommercial}
\addplot[c2, line width=1.4bp] table {\ccm}; \addlegendentry{Commercial}
\addplot[c3, line width=1.4bp] table {\cnr}; \addlegendentry{Nonreportable}
\addplot[refred, line width=0.9bp, dash pattern=on 3.2bp off 1.8bp, forget plot] coordinates {(0,95) (240.9,95)};
\addplot[refred, line width=0.9bp, dash pattern=on 3.2bp off 1.8bp, forget plot] coordinates {(0,5) (240.9,5)};
\addplot[black!45, line width=0.9bp, dash pattern=on 1bp off 1.5bp, forget plot] coordinates {(0,50) (240.9,50)};
\addplot[only marks, mark=triangle*, mark size=2.6bp, c1, forget plot] coordinates {(51.8,100)};
\addplot[only marks, mark=triangle*, mark size=2.6bp, c1, mark options={rotate=180}, forget plot] coordinates {(71.4,0)};
\addplot[only marks, mark=o, mark size=2.6bp, c1, mark options={line width=1bp}, forget plot] coordinates {(240.9,53)};
\coordinate (k1) at (axis cs:51.8,100);
\coordinate (k2) at (axis cs:71.4,0);
\coordinate (k3) at (axis cs:240.9,53);
\end{axis}

% ---------------- Panel 4: open interest ----------------
\begin{axis}[panel, at={(48.8bp,-549.5bp)}, anchor=south west, height=63bp,
  ymin=7.61, ymax=13.27, ytick={8,10,12}, yticklabels={8k,10k,12k}]
\addplot[c1, line width=1.5bp] table {\oi}; \addlegendentry{Open Interest (COT)}
\addplot[only marks, mark=triangle*, mark size=2.6bp, mk, forget plot] coordinates {(13.6,12.97)};
\addplot[only marks, mark=triangle*, mark size=2.6bp, mk, mark options={rotate=180}, forget plot] coordinates {(216.4,7.88)};
\addplot[only marks, mark=o, mark size=2.6bp, mk, mark options={line width=1bp}, forget plot] coordinates {(240.9,9.5)};
\coordinate (o1) at (axis cs:13.6,12.97);
\coordinate (o2) at (axis cs:216.4,7.88);
\coordinate (o3) at (axis cs:240.9,9.5);
\end{axis}

% annotations
\node[lab, text=annot, yshift=-8.8bp] at (pmin) {-72.05};
\node[lab, text=annot, yshift=8.8bp] at (pmax) {570.65};
\node[lab, text=annot, yshift=8.8bp] at (pend) {145.05};
\node[lab, text=labblue, yshift=8.8bp] at (n1) {6.5k};
\node[lab, text=labblue, yshift=-8.8bp] at (n2) {-2.0k};
\node[lab, text=labblue, yshift=7.5bp] at (n3) {855};
\node[lab, text=labblue, yshift=8.5bp] at (k1) {100/100};
\node[lab, text=labblue, yshift=-9bp] at (k2) {0/100};
\node[lab, text=labblue, yshift=8.5bp] at (k3) {53/100};
\node[lab, text=annot, yshift=9bp] at (o1) {13.8k};
\node[lab, text=annot, yshift=-10bp] at (o2) {7.3k};
\node[lab, text=annot, yshift=8.8bp] at (o3) {9.4k};

% titles and labels
\node[font=\fT, text=black!90] at (435.5bp,-17.5bp) {オレンジジュース先物 (OJ) — Weekly Price (Candle)};
\node[font=\fT, text=black!90] at (435.5bp,-200bp) {オレンジジュース先物 (OJ) — Net Positions (Futures-Only, Legacy, ALL)};
\node[font=\fA, text=black!90, rotate=90] at (17bp,-96.5bp) {Price};
\node[font=\fA, text=black!90, rotate=90] at (18.5bp,-272.7bp) {Net (contracts)};
\node[font=\fA, text=black!90, rotate=90] at (17.5bp,-410.7bp) {COT Index (0–100)};
\node[font=\fA, text=black!90, rotate=90] at (17bp,-518bp) {Open Interest (contracts)};
\node[font=\fA, text=black!90] at (435.5bp,-574.7bp) {Date};
\node[font=\fN, text=annot, anchor=east, inner sep=0pt] at (860.5bp,-579.7bp) {注: Net/OI は枚数（contracts）。k=1,000枚。COT Index・WVI・Stoch は 0–100 の位置指数。};
\end{tikzpicture}
\end{document}
